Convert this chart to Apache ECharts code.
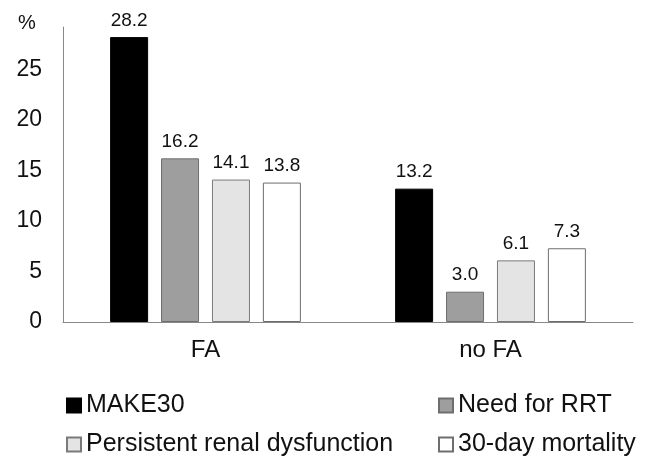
<!DOCTYPE html>
<html>
<head>
<meta charset="utf-8">
<script src="https://cdn.jsdelivr.net/npm/echarts@6/dist/echarts.min.js"></script>
<style>
  html, body { margin: 0; padding: 0; background: #fff; }
  #chart { width: 650px; height: 460px; }
</style>
</head>
<body>
<div id="chart"></div>
<script>
// 数据
var groups = ['FA', 'no FA'];
var seriesNames = ['MAKE30', 'Need for RRT', 'Persistent renal dysfunction', '30-day mortality'];
var make30 = [28.2, 13.2];
var needRRT = [16.2, 3.0];
var persistent = [14.1, 6.1];
var mortality = [13.8, 7.3];
var yTicks = [0, 5, 10, 15, 20, 25];

var font = 'Liberation Sans, Arial, sans-serif';
var fills = ['#000000', '#9e9e9e', '#e4e4e4', '#ffffff'];
var borders = ['#000000', '#6e6e6e', '#7a7a7a', '#6e6e6e'];
var values = [make30, needRRT, persistent, mortality];

var chart = echarts.init(document.getElementById('chart'));

var series = seriesNames.map(function (name, i) {
    return {
        name: name,
        type: 'bar',
        data: values[i],
        barWidth: 38,
        barGap: '34%',
        itemStyle: {
            color: fills[i],
            borderColor: borders[i],
            borderWidth: 1
        },
        label: {
            show: true,
            position: 'top',
            distance: 7,
            fontFamily: font,
            fontSize: 19,
            color: '#111',
            formatter: function (p) { return p.value.toFixed(1); }
        }
    };
});

var legendText = { fontFamily: font, fontSize: 25, color: '#111' };

var option = {
    animation: false,
    backgroundColor: '#fff',
    title: {
        text: '%',
        left: 13,
        top: 8,
        textStyle: { fontFamily: font, fontSize: 20, fontWeight: 'normal', color: '#111' }
    },
    grid: { left: 63, right: 17, top: 27, bottom: 138, containLabel: false },
    legend: [
        {
            orient: 'vertical',
            left: 66,
            top: 393,
            padding: 0,
            itemWidth: 14,
            itemHeight: 14,
            itemGap: 14,
            icon: 'rect',
            textStyle: legendText,
            data: [seriesNames[0], seriesNames[2]]
        },
        {
            orient: 'vertical',
            left: 438,
            top: 393,
            padding: 0,
            itemWidth: 14,
            itemHeight: 14,
            itemGap: 14,
            icon: 'rect',
            textStyle: legendText,
            data: [seriesNames[1], seriesNames[3]]
        }
    ],
    xAxis: {
        type: 'category',
        data: groups,
        axisLine: { lineStyle: { color: '#888', width: 1 } },
        axisTick: { show: false },
        axisLabel: { fontFamily: font, fontSize: 24, color: '#111', margin: 16 }
    },
    yAxis: {
        type: 'value',
        min: yTicks[0],
        max: 29.2,
        interval: 5,
        axisLine: { show: true, lineStyle: { color: '#888', width: 1 } },
        axisTick: { show: false },
        splitLine: { show: false },
        axisLabel: {
            fontFamily: font,
            fontSize: 23,
            color: '#111',
            margin: 21,
            showMaxLabel: false
        }
    },
    series: series
};

chart.setOption(option);
</script>
</body>
</html>
